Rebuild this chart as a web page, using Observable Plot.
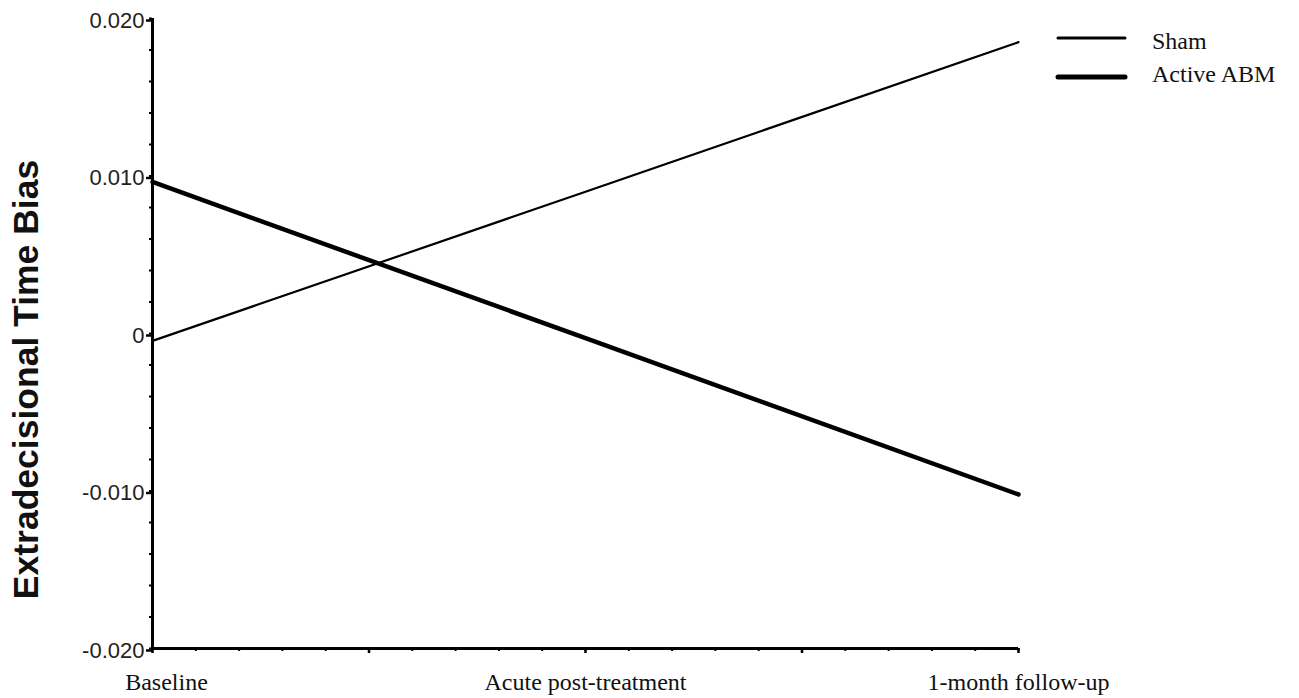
<!DOCTYPE html>
<html>
<head>
<meta charset="utf-8">
<script src="https://cdn.jsdelivr.net/npm/d3@7"></script>
<script src="https://cdn.jsdelivr.net/npm/@observablehq/plot@0.6"></script>
<style>
  html, body { margin: 0; padding: 0; background: #fff; }
  #wrap { position: relative; width: 1299px; height: 698px; }
  #legend { position: absolute; left: 0; top: 0; }
</style>
</head>
<body>
<div id="wrap"></div>
<script>
// Data
const timepoints = ["Baseline", "Acute post-treatment", "1-month follow-up"];
const timeIndex = [0, 1, 2];
const shamValues = [-0.00047, 0.0090, 0.0185];
const activeValues = [0.00962, -0.0003, -0.01022];
const seriesNames = ["Sham", "Active ABM"];
const yTickValues = [-0.02, -0.01, 0, 0.01, 0.02];
const yTickLabels = ["-0.020", "-0.010", "0", "0.010", "0.020"];
const yMinorTicks = d3.range(-10, 11).map(i => i * 0.002);
const xMajorTicks = [0, 0.5, 1, 1.5, 2];
const xMinorTicks = d3.range(0, 21).map(i => i * 0.1);
const yLabel = "Extradecisional Time Bias";

const rows = [];
timeIndex.forEach((t, i) => {
  rows.push({series: seriesNames[0], x: t, value: shamValues[i]});
  rows.push({series: seriesNames[1], x: t, value: activeValues[i]});
});
const cats = timepoints.map((name, i) => ({name, x: timeIndex[i]}));

const sans = "'Liberation Sans', Arial, sans-serif";
const serif = "'Liberation Serif', 'Times New Roman', serif";

const chart = Plot.plot({
  width: 1299,
  height: 698,
  marginLeft: 152,
  marginRight: 281,
  marginTop: 18,
  marginBottom: 50,
  style: {background: "#fff", color: "#000"},
  x: {domain: [0, 2], label: null},
  y: {domain: [-0.02, 0.02], label: null},
  marks: [
    Plot.axisY({ticks: yMinorTicks, tickFormat: () => "", tickSize: 3, strokeWidth: 2, label: null}),
    Plot.axisY({
      ticks: yTickValues,
      tickFormat: d => yTickLabels[yTickValues.indexOf(d)],
      tickSize: 6, tickPadding: 2, strokeWidth: 2.5, label: null,
      fontSize: 22, fontFamily: sans, fill: "#222", dy: 2
    }),
    Plot.axisX({ticks: xMinorTicks, tickFormat: () => "", tickSize: 3, strokeWidth: 2, label: null}),
    Plot.axisX({ticks: xMajorTicks, tickFormat: () => "", tickSize: 5, strokeWidth: 2.5, label: null}),
    Plot.ruleX([0], {strokeWidth: 3}),
    Plot.ruleY([-0.02], {strokeWidth: 3}),
    Plot.line(rows.filter(d => d.series === seriesNames[0]), {x: "x", y: "value", stroke: "#000", strokeWidth: 2.2}),
    Plot.line(rows.filter(d => d.series === seriesNames[1]), {x: "x", y: "value", stroke: "#000", strokeWidth: 4.5}),
    Plot.text(cats.slice(0, 1), {x: "x", text: "name", frameAnchor: "bottom", lineAnchor: "top", dy: 24, dx: 14, fontSize: 24, fontFamily: serif, fill: "#111"}),
    Plot.text(cats.slice(1), {x: "x", text: "name", frameAnchor: "bottom", lineAnchor: "top", dy: 24, fontSize: 24, fontFamily: serif, fill: "#111"}),
    Plot.text([yLabel], {frameAnchor: "left", textAnchor: "middle", lineAnchor: "middle", rotate: -90, dx: -126, dy: 46, fontSize: 35.5, fontWeight: "bold", fontFamily: sans, fill: "#111"})
  ]
});

const wrap = document.getElementById("wrap");
wrap.appendChild(chart);

// Legend (overlay, top right)
const ns = "http://www.w3.org/2000/svg";
const leg = document.createElementNS(ns, "svg");
leg.setAttribute("id", "legend");
leg.setAttribute("width", 1299);
leg.setAttribute("height", 110);
leg.style.pointerEvents = "none";
const legendRows = [
  {name: seriesNames[0], lineY: 38, textY: 49, w: 3},
  {name: seriesNames[1], lineY: 77, textY: 82, w: 5}
];
legendRows.forEach(r => {
  const l = document.createElementNS(ns, "line");
  l.setAttribute("x1", 1058); l.setAttribute("x2", 1125);
  l.setAttribute("y1", r.lineY); l.setAttribute("y2", r.lineY);
  l.setAttribute("stroke", "#000"); l.setAttribute("stroke-width", r.w);
  l.setAttribute("stroke-linecap", "round");
  leg.appendChild(l);
  const t = document.createElementNS(ns, "text");
  t.setAttribute("x", 1152); t.setAttribute("y", r.textY);
  t.setAttribute("font-family", serif); t.setAttribute("font-size", 24);
  t.setAttribute("fill", "#111");
  t.textContent = r.name;
  leg.appendChild(t);
});
wrap.appendChild(leg);
</script>
</body>
</html>
